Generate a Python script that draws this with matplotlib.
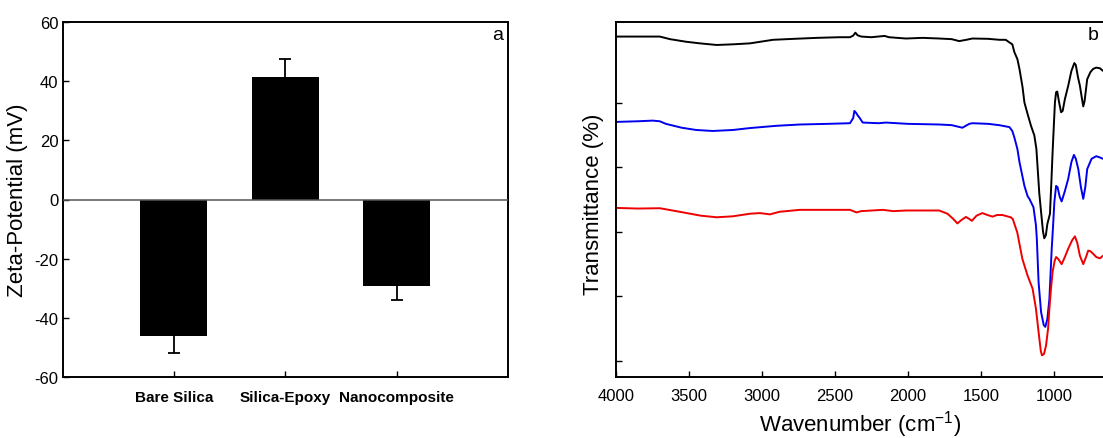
import matplotlib
matplotlib.use("Agg")
import matplotlib.pyplot as plt

plt.rcParams['font.family'] = ['Liberation Sans', 'DejaVu Sans']
plt.rcParams['mathtext.default'] = 'regular'

# ---- Panel a data ----
categories = ["Bare Silica", "Silica-Epoxy", "Nanocomposite"]
zeta_values = [-46.0, 41.5, -29.3]
zeta_errors = [5.8, 5.8, 4.6]
zeta_yticks = [-60, -40, -20, 0, 20, 40, 60]

# ---- Panel b data (FTIR spectra, arbitrary transmittance units) ----
wn_black = [4000, 3850, 3700, 3630, 3520, 3425, 3310, 3200, 3082, 2925, 2780, 2625, 2470, 2397,
            2375, 2360, 2345, 2320, 2250, 2160, 2130, 2014, 1900, 1786, 1700, 1649, 1600, 1558,
            1450, 1373, 1330, 1305, 1285, 1271, 1250, 1236, 1215, 1202, 1180, 1157, 1134, 1120,
            1111, 1100, 1088, 1075, 1066, 1055, 1045, 1027, 1018, 1009, 1000, 993, 985, 977, 965,
            951, 940, 925, 902, 880, 860, 850, 835, 822, 810, 799, 790, 772, 750, 731, 710, 685,
            664, 650]
t_black = [50.2, 50.2, 50.2, 49.8, 49.4, 49.15, 48.9, 49.0, 49.15, 49.7, 49.85, 50.0, 50.1, 50.1,
           50.35, 50.8, 50.4, 50.2, 50.1, 50.3, 50.1, 49.9, 50.0, 49.9, 49.8, 49.5, 49.7, 49.9,
           49.85, 49.7, 49.7, 49.3, 49.0, 47.8, 46.7, 45.2, 42.4, 40.0, 38.2, 36.4, 34.9, 32.8,
           29.7, 25.9, 23.1, 20.1, 19.0, 19.5, 21.2, 22.8, 27.4, 32.3, 36.7, 40.0, 41.6, 41.7, 40.1,
           38.5, 38.7, 40.5, 42.6, 44.9, 46.1, 45.8, 43.9, 42.6, 40.9, 39.4, 40.2, 43.6, 44.7, 45.2,
           45.4, 45.3, 44.9, 44.7]

wn_blue = [4000, 3850, 3749, 3700, 3658, 3550, 3450, 3338, 3200, 3082, 2900, 2740, 2550, 2397,
           2375, 2367, 2355, 2344, 2330, 2310, 2200, 2151, 2000, 1786, 1700, 1627, 1580, 1558,
           1450, 1375, 1305, 1285, 1271, 1250, 1236, 1202, 1180, 1168, 1140, 1123, 1117, 1105,
           1088, 1070, 1059, 1045, 1031, 1015, 1005, 997, 985, 975, 960, 947, 925, 902, 880, 863,
           850, 833, 815, 799, 785, 772, 742, 710, 685, 664, 650]
t_blue = [37.0, 37.1, 37.2, 37.1, 36.7, 36.1, 35.75, 35.6, 35.75, 36.05, 36.4, 36.6, 36.7, 36.8,
          37.6, 38.7, 38.4, 38.0, 37.6, 36.9, 36.8, 36.9, 36.7, 36.6, 36.5, 36.1, 36.7, 36.8,
          36.7, 36.5, 36.2, 35.6, 34.6, 32.8, 30.8, 27.1, 25.5, 25.1, 23.8, 21.0, 18.9, 12.2,
          7.6, 5.6, 5.3, 6.5, 9.6, 17.4, 21.2, 24.6, 27.1, 26.9, 25.4, 24.7, 26.3, 28.2, 30.8, 31.9,
          31.3, 29.7, 26.9, 25.1, 26.9, 29.7, 31.3, 31.7, 31.5, 31.3, 31.3]

wn_red = [4000, 3850, 3699, 3539, 3420, 3310, 3200, 3082, 3014, 2945, 2880, 2740, 2550, 2397,
          2352, 2320, 2173, 2100, 2014, 1900, 1786, 1729, 1690, 1661, 1635, 1603, 1580, 1562,
          1530, 1490, 1455, 1421, 1390, 1353, 1296, 1282, 1251, 1216, 1180, 1146, 1123, 1105,
          1090, 1082, 1068, 1054, 1040, 1031, 1020, 1009, 995, 985, 970, 947, 925, 902, 875, 856,
          840, 822, 799, 780, 765, 750, 731, 710, 685, 664, 650]
t_red = [23.7, 23.6, 23.65, 23.0, 22.5, 22.25, 22.4, 22.8, 22.9, 22.7, 23.1, 23.4, 23.4, 23.4,
         23.0, 23.2, 23.4, 23.2, 23.3, 23.3, 23.3, 22.8, 22.0, 21.3, 21.8, 22.3, 22.0, 21.7,
         22.5, 22.9, 22.6, 22.35, 22.6, 22.6, 22.25, 22.0, 19.9, 15.8, 13.2, 11.2, 8.1, 4.5,
         1.6, 0.9, 1.1, 2.4, 5.0, 8.1, 11.2, 13.8, 15.5, 16.1, 15.8, 15.0, 16.1, 17.4, 18.7, 19.3,
         18.3, 16.3, 15.0, 16.1, 17.1, 17.0, 16.6, 16.1, 15.9, 16.3, 16.4]

ftir_xticks = [4000, 3500, 3000, 2500, 2000, 1500, 1000]
ftir_yticks = [0, 10, 20, 30, 40]

fig = plt.figure(figsize=(11.03, 4.39), dpi=100)
W, H = 1103.0, 439.0

# ---------------- Panel a ----------------
ax1 = fig.add_axes([62.5 / W, (H - 378.3) / H, 445.5 / W, 355.6 / H])
xpos = [1, 2, 3]
ax1.errorbar(xpos, zeta_values, yerr=zeta_errors, fmt='none', ecolor='black',
             elinewidth=1.3, capsize=4.3, capthick=1.3, zorder=1)
ax1.bar(xpos, zeta_values, width=0.6, color='black', zorder=2)
ax1.axhline(0, color='#555555', lw=1.1, zorder=3)
ax1.set_xlim(0, 4)
ax1.set_ylim(-60, 60)
ax1.set_yticks(zeta_yticks)
ax1.set_yticklabels([str(v) for v in zeta_yticks], fontsize=12)
ax1.set_xticks(xpos)
ax1.set_xticklabels(categories, fontsize=11, fontweight='bold')
ax1.tick_params(axis='both', direction='in', length=4, width=1, top=False, right=False)
ax1.tick_params(axis='x', pad=9)
ax1.tick_params(axis='y', pad=3)
ax1.set_ylabel("Zeta-Potential (mV)", fontsize=16, va='center')
ax1.yaxis.set_label_coords(-0.102, 0.5)
ax1.text(0.977, 0.965, "a", transform=ax1.transAxes, fontsize=14, ha='center', va='center')
for s in ax1.spines.values():
    s.set_linewidth(1.4)

# ---------------- Panel b ----------------
ax2 = fig.add_axes([616.0 / W, (H - 378.3) / H, 489.0 / W, 355.6 / H])
ax2.plot(wn_black, t_black, color='black', lw=1.4)
ax2.plot(wn_blue, t_blue, color='#0000ee', lw=1.4)
ax2.plot(wn_red, t_red, color='#ee0000', lw=1.4)
ax2.set_xlim(4000, 650)
ax2.set_ylim(-2.5, 52.5)
ax2.set_xticks(ftir_xticks)
ax2.set_xticklabels([str(v) for v in ftir_xticks], fontsize=12)
ax2.set_yticks(ftir_yticks)
ax2.set_yticklabels([])
ax2.tick_params(axis='both', direction='in', length=4, width=1, top=False, right=False)
ax2.tick_params(axis='x', pad=8)
ax2.set_xlabel("Wavenumber (cm$^{-1}$)", fontsize=16, va='center')
ax2.xaxis.set_label_coords(0.5, -0.13)
ax2.set_ylabel("Transmittance (%)", fontsize=16, va='center')
ax2.yaxis.set_label_coords(-0.045, 0.49)
ax2.text(0.975, 0.963, "b", transform=ax2.transAxes, fontsize=14, ha='center', va='center')
for s in ax2.spines.values():
    s.set_linewidth(1.4)

fig.savefig("out.png", dpi=100)
